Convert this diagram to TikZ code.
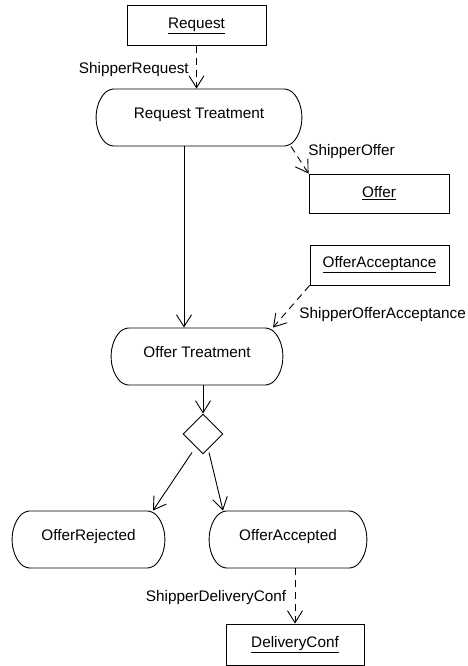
\documentclass[tikz,border=0pt]{standalone}
\usepackage{fontspec}
\setmainfont{Liberation Sans}
\usetikzlibrary{shapes.geometric,shapes.misc,arrows.meta,positioning}

\begin{document}
\begin{tikzpicture}[x=1pt, y=-1pt, font=\fontsize{15.3}{18}\selectfont,
    astate/.style={rounded rectangle, rounded rectangle arc length=90, rounded corners=5pt, draw, line width=0.9pt, text height=11pt, text depth=10pt, inner sep=0pt, minimum height=57pt},
    obox/.style={rectangle, draw, line width=0.9pt, minimum width=139pt, minimum height=40pt, inner sep=0pt},
    dec/.style={diamond, draw, line width=0.9pt, minimum size=40pt, inner sep=0pt},
    flow/.style={-{Straight Barb[length=12pt,width=15pt]}, line width=0.9pt},
    dep/.style={flow, dash pattern=on 7pt off 5pt}]

    \useasboundingbox (0,0) rectangle (467,666);

    \node[obox] (req) at (196.5,25.5) {\underline{Request}};
    \node[astate, minimum width=204pt] (reqt) at (199,117.5) {Request Treatment};
    \node[obox, minimum height=39pt, minimum width=140pt] (off) at (379,193.5) {\underline{Offer}};
    \node[obox] (offacc) at (379.5,265) {\underline{OfferAcceptance}};
    \node[astate, minimum width=170pt] (offt) at (197,356.5) {Offer Treatment};
    \node[dec] (choice) at (203,434) {};
    \node[astate, minimum width=151pt] (rej) at (88.5,539.5) {OfferRejected};
    \node[astate, minimum width=156pt] (acc) at (288,539.5) {OfferAccepted};
    \node[obox, minimum width=138pt, minimum height=41pt] (del) at (295,644.5) {\underline{DeliveryConf}};

    \draw[dep] (req) -- (req |- reqt.north) node[pos=0.55, left=4pt] {ShipperRequest};
    \draw[dep] ([xshift=92pt]reqt.south) -- (off.north west) node[pos=0.2, right=10pt] {ShipperOffer};
    \draw[flow] ([xshift=-15pt]reqt.south) -- ([xshift=-15pt]reqt.south |- offt.north);
    \draw[dep] (offacc.south west) -- ([xshift=76pt]offt.north) node[pos=0.68, right=11pt] {ShipperOfferAcceptance};
    \draw[flow] (choice |- offt.south) -- (choice.north);
    \draw[flow] ([xshift=-11pt,yshift=2pt]choice.south) -- ([xshift=64.5pt]rej.north);
    \draw[flow] ([xshift=6pt,yshift=2pt]choice.south) -- ([xshift=-65pt]acc.north);
    \draw[dep] (del |- acc.south) -- (del.north) node[pos=0.52, left=5pt] {ShipperDeliveryConf};

\end{tikzpicture}
\end{document}
